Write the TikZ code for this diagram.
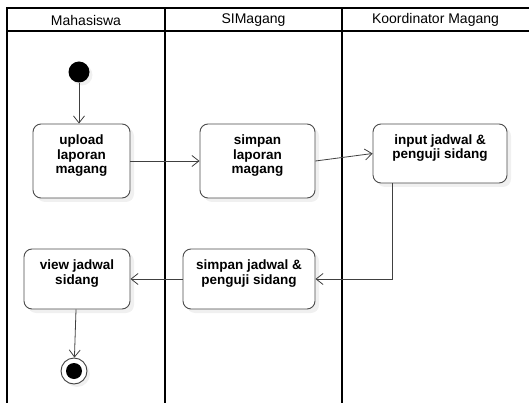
\documentclass[tikz,border=0pt]{standalone}
\usepackage{fontspec}
\setmainfont{Liberation Sans}
\usetikzlibrary{arrows.meta,shadows}

\begin{document}
\begin{tikzpicture}[x=1pt, y=-1pt]
\tikzset{aktivitas/.style={draw=black!70, line width=0.9pt, fill=white, rounded corners=8pt, align=center, font=\fontsize{13.5}{14.5}\selectfont\bfseries, inner ysep=10.5pt, text depth=13.5pt, drop shadow={shadow xshift=4pt, shadow yshift=-4pt, opacity=0.12}},
  judul/.style={font=\fontsize{14}{16}\selectfont},
  alur/.style={draw=black!75, line width=0.8pt, -{Straight Barb[length=7pt, width=11pt]}},
  garis/.style={line width=1.8pt}}
\useasboundingbox (0,0) rectangle (529,403);
\draw[garis] (7,403) -- (7,8) -- (529,8);
\draw[garis] (7,31) -- (529,31);
\draw[garis] (165,8) -- (165,403);
\draw[garis] (342,8) -- (342,403);
\node[judul] (L1) at (86,20) {Mahasiswa};
\node[judul] (L2) at (253.5,20) {SIMagang};
\node[judul] (L3) at (435.5,20) {Koordinator Magang};
\node[circle, fill=black, minimum size=21pt, inner sep=0pt, drop shadow={shadow xshift=3pt, shadow yshift=-3pt, opacity=0.12}] (mulai) at (79,72) {};
\node[aktivitas, minimum width=97pt, minimum height=74pt] (upload) at (81.5,161) {upload\\laporan\\magang};
\node[aktivitas, minimum width=115pt, minimum height=74pt] (simlap) at (257.5,161) {simpan\\laporan\\magang};
\node[aktivitas, minimum width=134pt, minimum height=59pt] (input) at (440,153.5) {input jadwal \&\\penguji sidang};
\node[aktivitas, minimum width=132pt, minimum height=60pt] (simjad) at (249,279) {simpan jadwal \&\\penguji sidang};
\node[aktivitas, minimum width=106pt, minimum height=60pt] (view) at (77,279) {view jadwal\\sidang};
\node[circle, draw=black!75, line width=0.9pt, fill=white, minimum size=26pt, inner sep=0pt, drop shadow={shadow xshift=3pt, shadow yshift=-3pt, opacity=0.12}] (selesai) at (74,371) {};
\fill (selesai) circle (8pt);
\draw[alur] (mulai) -- (mulai |- upload.north);
\draw[alur] (upload) -- (simlap);
\draw[alur] (simlap.east) -- (input.west);
\draw[alur] ([xshift=20pt]input.south west) |- (simjad.east);
\draw[alur] (simjad) -- (view);
\draw[alur] (view) -- (selesai);
\end{tikzpicture}
\end{document}
